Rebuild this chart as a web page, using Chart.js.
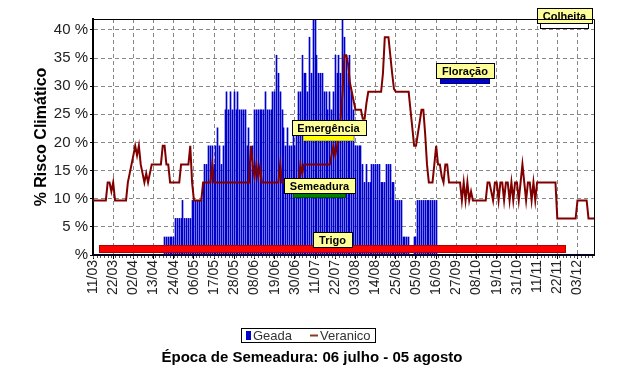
<!DOCTYPE html>
<html>
<head>
<meta charset="utf-8">
<script src="https://cdn.jsdelivr.net/npm/chart.js@4.4.1/dist/chart.umd.min.js"></script>
<style>
  body { margin: 0; background: #fff; }
  canvas { display: block; }
</style>
</head>
<body>
<canvas id="riscoChart" width="625" height="389"></canvas>
<script>
// tick labels every 11 days, starting 11/03
const tickLabels = ['11/03', '22/03', '02/04', '13/04', '24/04', '06/05', '17/05', '28/05', '08/06',
    '19/06', '30/06', '11/07', '22/07', '03/08', '14/08', '25/08', '05/09', '16/09', '27/09',
    '08/10', '19/10', '31/10', '11/11', '22/11', '03/12'];

// % risco de geada, one value per day (each row = 11 days)
const geada = [
    0, 0, 0, 0, 0, 0, 0, 0, 0, 0, 0,
    0, 0, 0, 0, 0, 0, 0, 0, 0, 0, 0,
    0, 0, 0, 0, 0, 0, 0, 0, 0, 0, 0,
    0, 0, 0, 0, 0, 0, 3.2, 3.2, 3.2, 3.2, 3.2,
    3.2, 6.5, 6.5, 6.5, 6.5, 9.7, 6.5, 6.5, 6.5, 6.5, 9.7,
    9.7, 9.7, 9.7, 9.7, 9.7, 12.9, 16.1, 16.1, 19.4, 19.4, 19.4,
    16.1, 19.4, 22.6, 19.4, 16.1, 19.4, 25.8, 29.0, 25.8, 29.0, 25.8,
    29.0, 25.8, 29.0, 25.8, 25.8, 25.8, 25.8, 19.4, 22.6, 16.1, 19.4,
    25.8, 25.8, 25.8, 25.8, 25.8, 25.8, 29.0, 25.8, 25.8, 25.8, 29.0,
    29.0, 35.5, 32.3, 29.0, 25.8, 22.6, 19.4, 22.6, 19.4, 19.4, 22.6,
    19.4, 22.6, 29.0, 29.0, 35.5, 32.3, 32.3, 29.0, 38.7, 32.3, 41.9,
    41.9, 35.5, 32.3, 32.3, 32.3, 29.0, 29.0, 25.8, 29.0, 25.8, 29.0,
    35.5, 32.3, 35.5, 32.3, 41.9, 38.7, 35.5, 32.3, 35.5, 29.0, 25.8,
    19.4, 19.4, 19.4, 19.4, 16.1, 12.9, 16.1, 12.9, 12.9, 16.1, 16.1,
    16.1, 16.1, 16.1, 12.9, 12.9, 12.9, 16.1, 16.1, 16.1, 12.9, 12.9,
    9.7, 9.7, 9.7, 9.7, 3.2, 3.2, 3.2, 3.2, 0, 0, 3.2,
    3.2, 9.7, 9.7, 9.7, 9.7, 9.7, 9.7, 9.7, 9.7, 9.7, 9.7,
    9.7, 0, 0, 0, 0, 0, 0, 0, 0, 0, 0,
    0, 0, 0, 0, 0, 0, 0, 0, 0, 0, 0,
    0, 0, 0, 0, 0, 0, 0, 0, 0, 0, 0,
    0, 0, 0, 0, 0, 0, 0, 0, 0, 0, 0,
    0, 0, 0, 0, 0, 0, 0, 0, 0, 0, 0,
    0, 0, 0, 0, 0, 0, 0, 0, 0, 0, 0,
    0, 0, 0, 0, 0, 0, 0, 0, 0, 0, 0,
    0, 0, 0, 0, 0, 0, 0, 0, 0, 0
];

// % risco de veranico, one value per day
const veranico = [
    9.7, 9.7, 9.7, 9.7, 9.7, 9.7, 9.7, 9.7, 12.9, 12.9, 11.3,
    12.9, 9.7, 9.7, 9.7, 9.7, 9.7, 9.7, 9.7, 12.9, 14.5, 16.1,
    17.7, 19.4, 17.7, 19.4, 16.1, 14.5, 12.9, 14.5, 12.9, 14.5, 16.1,
    16.1, 16.1, 16.1, 16.1, 16.1, 19.4, 19.4, 16.1, 16.1, 12.9, 12.9,
    12.9, 12.9, 12.9, 12.9, 16.1, 16.1, 16.1, 16.1, 16.1, 19.4, 12.9,
    9.7, 9.7, 9.7, 9.7, 9.7, 12.9, 12.9, 12.9, 12.9, 12.9, 16.1,
    12.9, 12.9, 12.9, 12.9, 12.9, 12.9, 12.9, 12.9, 12.9, 12.9, 12.9,
    12.9, 12.9, 12.9, 12.9, 12.9, 12.9, 12.9, 12.9, 12.9, 19.4, 16.1,
    13.8, 16.1, 13.8, 15.6, 12.9, 12.9, 12.9, 12.9, 12.9, 12.9, 12.9,
    12.9, 12.9, 12.9, 16.1, 12.9, 12.9, 12.9, 12.9, 12.9, 12.9, 12.9,
    12.9, 12.9, 12.9, 16.1, 14.5, 16.1, 16.1, 16.1, 16.1, 16.1, 16.1,
    16.1, 16.1, 16.1, 16.1, 16.1, 16.1, 16.1, 16.1, 16.1, 17.7, 19.4,
    17.7, 19.4, 21.6, 24.5, 29.0, 35.5, 35.5, 33.9, 30.6, 29.0, 27.4,
    25.8, 25.8, 25.8, 25.8, 24.2, 24.2, 27.0, 29.0, 29.0, 29.0, 29.0,
    29.0, 29.0, 29.0, 29.0, 32.3, 38.7, 38.7, 38.7, 35.5, 32.3, 29.5,
    29.0, 29.0, 29.0, 29.0, 29.0, 29.0, 29.0, 29.0, 25.8, 22.6, 19.4,
    19.4, 21.5, 23.6, 25.8, 25.8, 21.5, 16.1, 12.9, 12.9, 12.9, 16.1,
    19.4, 16.1, 16.1, 14.0, 12.9, 16.1, 16.1, 12.9, 12.9, 12.9, 12.9,
    12.9, 12.9, 12.9, 9.7, 12.9, 9.7, 12.9, 9.7, 11.3, 9.7, 9.7,
    9.7, 9.7, 9.7, 9.7, 9.7, 9.7, 12.9, 12.9, 11.3, 9.7, 12.9,
    12.9, 9.7, 12.9, 12.9, 9.7, 12.9, 12.9, 9.7, 12.9, 9.7, 12.9,
    12.9, 9.7, 12.9, 16.1, 12.9, 9.7, 12.9, 12.9, 9.7, 12.9, 9.7,
    12.9, 12.9, 12.9, 12.9, 12.9, 12.9, 12.9, 12.9, 12.9, 12.9, 12.9,
    6.5, 6.5, 6.5, 6.5, 6.5, 6.5, 6.5, 6.5, 6.5, 6.5, 6.5,
    9.7, 9.7, 9.7, 9.7, 9.7, 9.7, 6.5, 6.5, 6.5, 6.5
];

// crop phases, in days from 11/03
const phaseNames = ['Trigo', 'Semeadura', 'Emergência', 'Floração', 'Colheita'];
const phaseStart = [3, 109, 114.5, 189, 243.5];
const phaseEnd = [257.5, 138, 142, 216.5, 270.5];

const days = veranico.map((v, i) => i);
const FONT = '"Liberation Sans", Arial, sans-serif';

// keep the 1px bars on whole pixels so they stay crisp
const snapPlugin = {
    id: 'snap',
    beforeDatasetsDraw(chart) {
        chart.getDatasetMeta(0).data.forEach(el => { el.x = Math.floor(el.x) + 0.5; });
    }
};

const phasePlugin = {
    id: 'phases',
    afterDatasetsDraw(chart, args, opts) {
        const { ctx, scales: { x, y } } = chart;
        ctx.save();
        ctx.font = 'bold 11px ' + FONT;
        phaseNames.forEach((name, i) => {
            const st = opts.styles[i];
            const x1 = Math.round(x.getPixelForValue(phaseStart[i]));
            const x2 = Math.round(x.getPixelForValue(phaseEnd[i]));
            const top = Math.round(y.getPixelForValue(st.level));
            ctx.fillStyle = st.fill;
            ctx.fillRect(x1, top, x2 - x1, st.h);
            ctx.strokeStyle = st.stroke;
            ctx.lineWidth = 1;
            ctx.strokeRect(x1 + 0.5, top + 0.5, x2 - x1 - 1, st.h - 1);

            const w = Math.round(ctx.measureText(name).width + 12);
            const cx = (x1 + x2) / 2;
            const bx = Math.round(cx - w / 2) + 0.5;
            const by = top - 15 + st.shift + 0.5;
            ctx.fillStyle = '#ffff99';
            ctx.fillRect(bx, by, w, 15);
            ctx.strokeStyle = '#000';
            ctx.strokeRect(bx, by, w, 15);
            ctx.fillStyle = '#000';
            ctx.textAlign = 'center';
            ctx.textBaseline = 'middle';
            ctx.fillText(name, cx, by + 8);
        });
        ctx.restore();
    }
};

const framePlugin = {
    id: 'frame',
    afterDraw(chart) {
        const { ctx, chartArea: a, scales: { x } } = chart;
        ctx.save();
        ctx.strokeStyle = '#000';
        ctx.lineWidth = 1;
        ctx.beginPath();
        ctx.moveTo(a.left, a.top + 0.5);
        ctx.lineTo(a.right + 0.5, a.top + 0.5);
        ctx.lineTo(a.right + 0.5, a.bottom);
        ctx.stroke();
        // minor ticks
        ctx.strokeStyle = '#555';
        ctx.beginPath();
        for (let d = 0; d <= x.max; d += 2) {
            const px = Math.round(x.getPixelForValue(d)) + 0.5;
            ctx.moveTo(px, a.bottom + 1);
            ctx.lineTo(px, a.bottom + 3);
        }
        ctx.stroke();

        // legend
        ctx.strokeStyle = '#000';
        ctx.strokeRect(241.5, 328.5, 134, 14);
        ctx.fillStyle = '#0000cd';
        ctx.fillRect(246, 331, 5, 9);
        ctx.strokeStyle = '#8b3a1a';
        ctx.lineWidth = 2;
        ctx.beginPath();
        ctx.moveTo(310, 335.5);
        ctx.lineTo(318, 335.5);
        ctx.stroke();
        ctx.font = '13px ' + FONT;
        ctx.fillStyle = '#333';
        ctx.textBaseline = 'middle';
        ctx.textAlign = 'left';
        ctx.fillText('Geada', 253, 336);
        ctx.fillText('Veranico', 320, 336);

        // title
        ctx.font = 'bold 15px ' + FONT;
        ctx.fillStyle = '#000';
        ctx.textAlign = 'center';
        ctx.fillText('Época de Semeadura: 06 julho - 05 agosto', 312, 358);
        ctx.restore();
    }
};

new Chart(document.getElementById('riscoChart'), {
    type: 'bar',
    data: {
        labels: days,
        datasets: [{
            type: 'bar',
            label: 'Geada',
            data: geada,
            backgroundColor: '#0000cd',
            barThickness: 1,
            order: 1
        }, {
            type: 'line',
            label: 'Veranico',
            data: veranico,
            borderColor: '#800000',
            borderWidth: 2,
            pointRadius: 0,
            tension: 0,
            order: 0
        }]
    },
    options: {
        responsive: false,
        animation: false,
        layout: { padding: { top: 19, right: 31, left: 0, bottom: 0 } },
        scales: {
            x: {
                type: 'linear',
                min: 0,
                max: 273,
                offset: false,
                afterFit: s => { s.height = 134; },
                ticks: {
                    stepSize: 11,
                    maxTicksLimit: 30,
                    autoSkip: false,
                    includeBounds: false,
                    minRotation: 90,
                    maxRotation: 90,
                    padding: 1,
                    color: '#222',
                    font: { family: FONT, size: 14 },
                    callback: v => tickLabels[Math.round(v / 11)] || ''
                },
                grid: { offset: false, color: '#888', tickColor: '#000', tickLength: 4 },
                border: { color: '#000', width: 2, dash: [4, 3] }
            },
            y: {
                min: 0,
                max: 41.94,
                afterFit: s => { s.width = 93; },
                ticks: {
                    stepSize: 5,
                    includeBounds: false,
                    padding: 2,
                    color: '#222',
                    font: { family: FONT, size: 15 },
                    callback: v => v === 0 ? '%' : v + ' %'
                },
                grid: { color: '#888', tickColor: '#000', tickLength: 3 },
                border: { color: '#000', width: 2, dash: [4, 3] },
                title: {
                    display: true,
                    text: '% Risco Climático',
                    color: '#000',
                    font: { family: FONT, size: 16, weight: 'bold' },
                    padding: { top: 32, bottom: 0 }
                }
            }
        },
        plugins: {
            legend: { display: false },
            tooltip: { enabled: false },
            phases: {
                styles: [
                    { level: 1.7, h: 8, fill: '#ff0000', stroke: '#b00000', shift: 2 },
                    { level: 11.1, h: 5, fill: '#008000', stroke: '#005000', shift: 0 },
                    { level: 21.4, h: 6, fill: '#ffff00', stroke: '#c8c800', shift: 0 },
                    { level: 31.4, h: 6, fill: '#0000cd', stroke: '#000080', shift: 0 },
                    { level: 41.3, h: 6, fill: '#ffffff', stroke: '#000000', shift: 0 }
                ]
            }
        }
    },
    plugins: [snapPlugin, phasePlugin, framePlugin]
});
</script>
</body>
</html>
